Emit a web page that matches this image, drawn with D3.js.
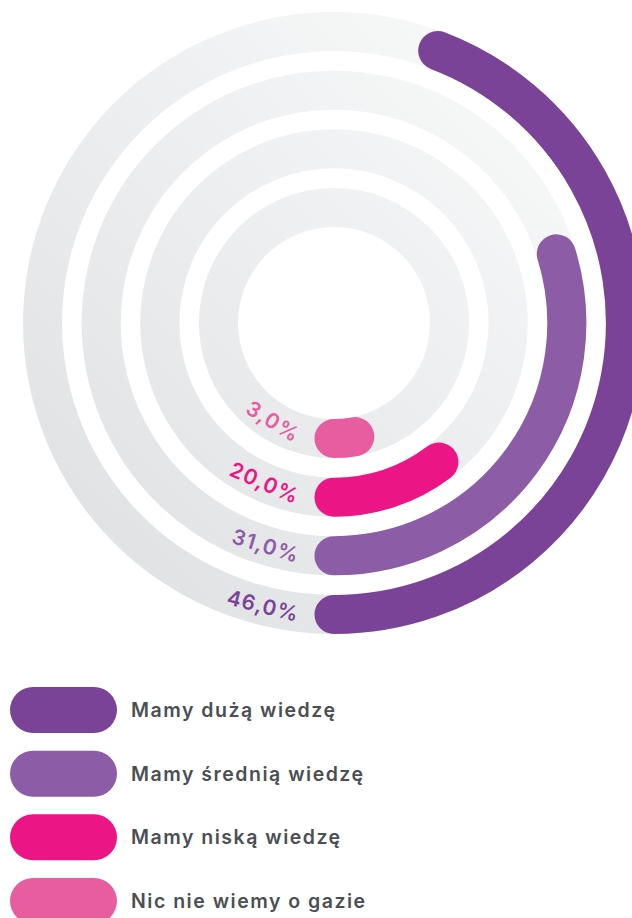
<!DOCTYPE html>
<html>
<head>
<meta charset="utf-8">
<script src="https://cdn.jsdelivr.net/npm/d3@7"></script>
<style>
  body { margin: 0; background: #fff; }
  svg { display: block; font-family: Inter, "Noto Sans", sans-serif; }
</style>
</head>
<body>
<div id="chart"></div>
<script>
// categories, outer ring first
var categories = ["Mamy dużą wiedzę", "Mamy średnią wiedzę", "Mamy niską wiedzę", "Nic nie wiemy o gazie"];
// shares printed next to the bars
var values = [46, 31, 20, 3];
var valueLabels = ["46,0%", "31,0%", "20,0%", "3,0%"];
// bar lengths as they are drawn in the picture (same scale for all rings)
var barLengths = [46, 31, 10.7, 3];
var colors = ["#7b4397", "#8c5ca6", "#ec1586", "#e85da0"];

var width = 632, height = 918;
var cx = 334, cy = 323;

var svg = d3.select("#chart").append("svg")
  .attr("width", width)
  .attr("height", height);

var defs = svg.append("defs");
var grad = defs.append("linearGradient")
  .attr("id", "track")
  .attr("gradientUnits", "userSpaceOnUse")
  .attr("x1", cx - 311).attr("y1", cy + 311)
  .attr("x2", cx + 311).attr("y2", cy - 311);
grad.append("stop").attr("offset", 0).attr("stop-color", "#dcdfe1");
grad.append("stop").attr("offset", 1).attr("stop-color", "#fdfdfd");

// ring radii
var r = d3.scaleBand()
  .domain(categories)
  .range([311, 96])
  .paddingInner(1 / 3);
var bw = r.bandwidth();

// value -> angle
var angle = d3.scaleLinear()
  .domain([0, 100])
  .range([0, 346 * Math.PI / 180]);

var g = svg.append("g").attr("transform", "translate(" + cx + "," + cy + ")");

// grey tracks
var trackArc = d3.arc()
  .innerRadius(function(d) { return r(d); })
  .outerRadius(function(d) { return r(d) + bw; })
  .startAngle(0)
  .endAngle(2 * Math.PI);

g.selectAll("path.track")
  .data(categories)
  .enter()
  .append("path")
  .attr("class", "track")
  .attr("d", trackArc)
  .attr("fill", "url(#track)")
  .attr("transform", "translate(" + -cx + "," + -cy + ")")
  .attr("transform", null);

// bars: start at the bottom, run anticlockwise
function barPath(i) {
  var rm = r(categories[i]) + bw / 2;
  var p = d3.path();
  p.arc(0, 0, rm, Math.PI / 2, Math.PI / 2 - angle(barLengths[i]), true);
  return p.toString();
}

g.selectAll("path.bar")
  .data(categories)
  .enter()
  .append("path")
  .attr("class", "bar")
  .attr("d", function(d, i) { return barPath(i); })
  .attr("fill", "none")
  .attr("stroke", function(d, i) { return colors[i]; })
  .attr("stroke-width", bw)
  .attr("stroke-linecap", "round");

// value labels placed along the ring, just before the bar start
var labels = g.selectAll("text.val")
  .data(categories)
  .enter()
  .append("text")
  .attr("class", "val")
  .attr("text-anchor", "middle")
  .attr("dominant-baseline", "central")
  .attr("font-size", 21)
  .attr("font-weight", 600)
  .attr("letter-spacing", 1.2)
  .attr("fill", function(d, i) { return colors[i]; })
  .text(function(d, i) { return valueLabels[i]; });

labels.each(function(d, i) {
  var rm = r(d) + bw / 2;
  var len = this.getComputedTextLength();
  var phi = (bw / 2 + 15 + len / 2) / rm;
  var x = -rm * Math.sin(phi), y = rm * Math.cos(phi);
  d3.select(this).attr("transform",
    "translate(" + x + "," + y + ") rotate(" + (phi * 180 / Math.PI) + ")");
});

// legend
var ly = d3.scalePoint()
  .domain(categories)
  .range([710, 901]);

var legend = svg.selectAll("g.legend")
  .data(categories)
  .enter()
  .append("g")
  .attr("class", "legend")
  .attr("transform", function(d) { return "translate(0," + ly(d) + ")"; });

legend.append("rect")
  .attr("x", 10)
  .attr("y", -23)
  .attr("width", 107)
  .attr("height", 46)
  .attr("rx", 23)
  .attr("fill", function(d, i) { return colors[i]; });

legend.append("text")
  .attr("x", 131)
  .attr("y", 0)
  .attr("dominant-baseline", "central")
  .attr("font-size", 19.5)
  .attr("font-weight", 600)
  .attr("letter-spacing", 1.5)
  .attr("fill", "#4b4f54")
  .text(function(d) { return d; });
</script>
</body>
</html>
